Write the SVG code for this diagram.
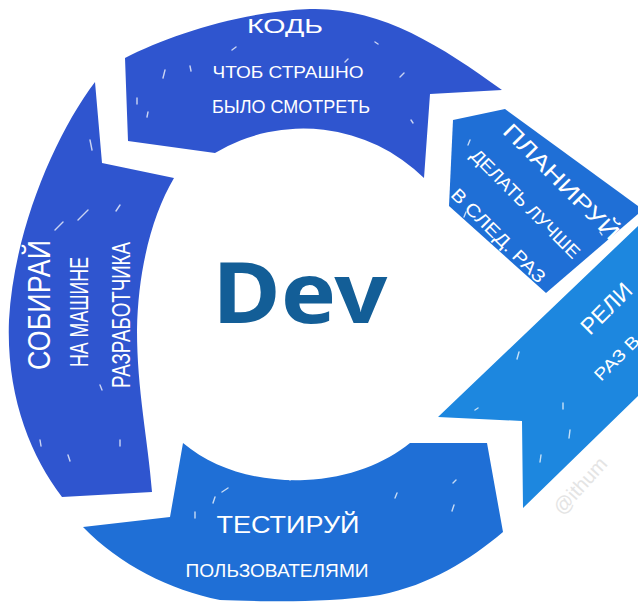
<svg xmlns="http://www.w3.org/2000/svg" width="638" height="607" viewBox="0 0 638 607">
<style>
.t{fill:#fff;font-family:"Liberation Sans","DejaVu Sans",sans-serif;text-anchor:middle}
.s{fill:#fff;font-family:"Liberation Sans","DejaVu Sans",sans-serif}
.dk{fill:#2f55cf}
.md{fill:#1f6fd6}
.lt{fill:#1d87df}
.sp{stroke:#fff;stroke-width:1.4;stroke-linecap:round;opacity:.75;fill:none}
</style>
<rect width="638" height="607" fill="#fff"/>
<g id="kod">
<path class="dk" d="M125,58 C170,35 240,12 310,9 C380,7 440,45 502,90 L430,94 L424,178 A172 172 0 0 0 215,153 L128,141 Z"/>
<path class="sp" d="M165,70 l-2,8 M190,66 l1,5 M232,50 l4,-3 M375,42 l3,2 M404,73 l-4,4 M137,98 l0,6 M148,112 l-1,5 M411,120 l2,3 M345,62 l3,-3"/>
<text class="t" x="285" y="33" font-size="20" textLength="76" lengthAdjust="spacingAndGlyphs">КОДЬ</text>
<text class="t" x="288" y="78" font-size="17" textLength="151" lengthAdjust="spacingAndGlyphs">ЧТОБ СТРАШНО</text>
<text class="t" x="291" y="113" font-size="18" textLength="158" lengthAdjust="spacingAndGlyphs">БЫЛО СМОТРЕТЬ</text>
</g>
<g id="plan">
<path class="md" d="M453,120 L505,109 L638,206 L638,214 L546,293 L449,206 Z"/>
<path class="sp" d="M470,140 l-2,5 M600,232 l2,3 M466,212 l-2,5"/>
<text class="t" transform="translate(556,187) rotate(45)" font-size="22" textLength="154" lengthAdjust="spacingAndGlyphs">ПЛАНИРУЙ</text>
<text class="t" transform="translate(521,208) rotate(45)" font-size="18" textLength="146" lengthAdjust="spacingAndGlyphs">ДЕЛАТЬ ЛУЧШЕ</text>
<text class="t" transform="translate(494,240) rotate(45)" font-size="18" textLength="125" lengthAdjust="spacingAndGlyphs">В СЛЕД. РАЗ</text>
</g>
<g id="release">
<path class="lt" d="M438,417 L638,226 L638,396 L523,508 L522,421 Z"/>
<path class="sp" d="M519,352 l-2,7 M563,403 l0,6 M570,430 l-1,8 M475,410 l3,-2 M541,455 l-1,7"/>
<text class="s" transform="translate(590,336) rotate(-45)" font-size="23" textLength="62" lengthAdjust="spacingAndGlyphs">РЕЛИ</text>
<text class="s" transform="translate(601,382) rotate(-45)" font-size="17" textLength="56" lengthAdjust="spacingAndGlyphs">РАЗ В</text>
</g>
<g id="test">
<path class="md" d="M183,443 C215,470 260,482 305,480 C350,478 385,463 410,443 L487,443 L503,532 C470,560 430,585 380,595 C320,604 255,601 220,600 C170,590 120,565 83,527 L170,517 Z"/>
<path class="sp" d="M215,497 l-2,6 M222,492 l6,-4 M300,470 l-10,10 M395,498 l2,-5 M453,483 l3,-3 M454,505 l-2,6 M195,512 l0,6"/>
<text class="t" x="288" y="533" font-size="24" textLength="143" lengthAdjust="spacingAndGlyphs">ТЕСТИРУЙ</text>
<text class="t" x="277" y="577" font-size="19" textLength="183" lengthAdjust="spacingAndGlyphs">ПОЛЬЗОВАТЕЛЯМИ</text>
</g>
<g id="build">
<path class="dk" d="M95,82 L102,163 L174,178 C152,215 138,270 137,330 C137,390 148,440 152,492 L62,497 C30,455 6,395 9,320 C14,230 55,135 95,82 Z"/>
<path class="sp" d="M90,140 l2,10 M55,230 l8,-8 M120,205 l-4,6 M78,220 l10,-10 M40,440 l1,6 M68,455 l2,6 M120,440 l0,6 M100,385 l2,5"/>
<text class="t" transform="translate(50,305) rotate(-90)" font-size="32" textLength="130" lengthAdjust="spacingAndGlyphs">СОБИРАЙ</text>
<text class="t" transform="translate(88,312) rotate(-90)" font-size="26" textLength="110" lengthAdjust="spacingAndGlyphs">НА МАШИНЕ</text>
<text class="t" transform="translate(130,315) rotate(-90)" font-size="26" textLength="146" lengthAdjust="spacingAndGlyphs">РАЗРАБОТЧИКА</text>
</g>
<g id="dev">
<text x="300" y="323" font-family="'Noto Sans','DejaVu Sans',sans-serif" font-weight="bold" font-size="85" fill="#135e97" text-anchor="middle" textLength="175" lengthAdjust="spacingAndGlyphs">Dev</text>
</g>
<g id="watermark">
<text transform="translate(562,516) rotate(-48)" font-family="'Liberation Sans',sans-serif" font-size="20" fill="#e4e4e4">@ithum</text>
</g>
</svg>
